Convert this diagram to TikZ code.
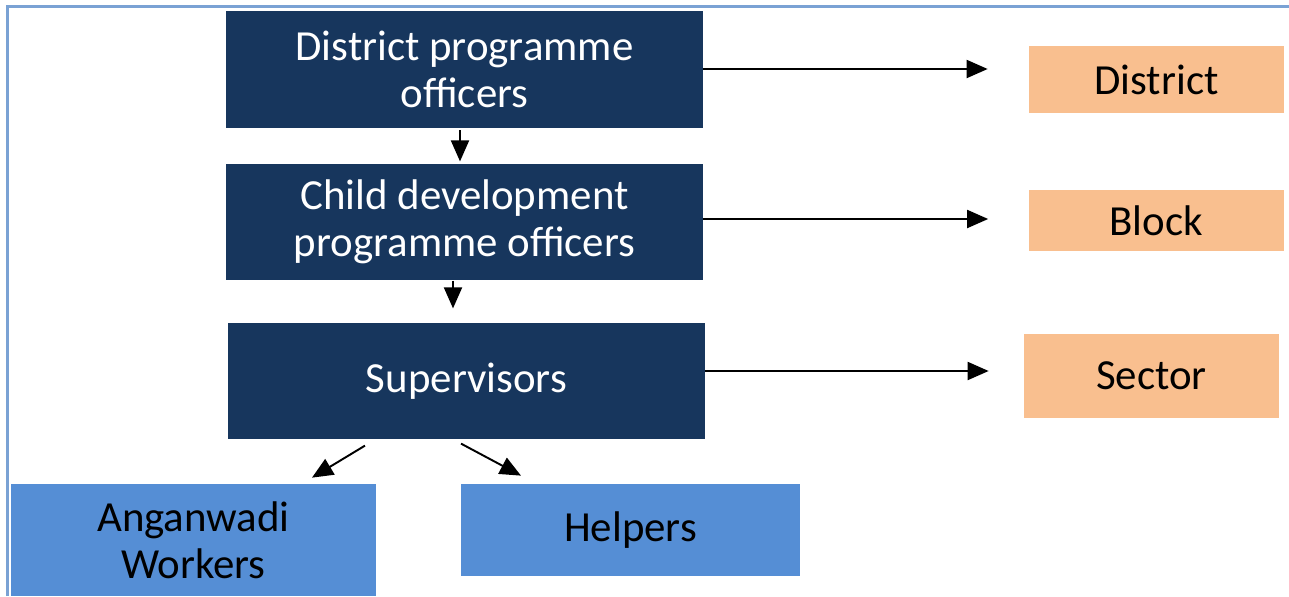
\documentclass[tikz,border=0pt]{standalone}
\usepackage{fontspec}
\setmainfont{Carlito}
\usepackage{tikz}
\usetikzlibrary{arrows.meta,calc}
\usetikzlibrary{positioning}
\definecolor{officer}{RGB}{23,54,93}
\definecolor{level}{RGB}{249,191,143}
\definecolor{worker}{RGB}{85,142,213}
\definecolor{frame}{RGB}{122,162,212}

\begin{document}
\begin{tikzpicture}[
  officer/.style={fill=officer, text=white, minimum width=9.54cm, minimum height=2.33cm, align=center, inner sep=0pt},
  level/.style={fill=level, minimum width=5.1cm, align=center, inner sep=0pt},
  worker/.style={fill=worker, align=center, inner sep=0pt},
  arr/.style={-{Triangle[length=0.42cm, width=0.36cm]}, line width=1.1pt},
  font=\fontsize{24.4}{26.7}\selectfont,
  node distance=1.5cm
  ]
  \useasboundingbox (0,0) rectangle (25.78,-11.92);

  % Frame
  \draw[frame, line width=1.2pt] (0.15,-11.92) -- (0.15,-0.13) -- (25.78,-0.13);

  % Officers
  \node[officer] (dpo) at (9.29,-1.39) {District programme\\officers};
  \node[officer, below of=dpo, node distance=3.05cm] (cdpo) {Child development\\programme officers};
  \node[officer, below of=cdpo, node distance=3.18cm, xshift=0.04cm] (sup) {Supervisors};

  % Levels
  \node[level, minimum height=1.34cm, right of=dpo, node distance=13.84cm, yshift=-0.2cm] (district) {District};
  \node[level, minimum height=1.22cm, right of=cdpo, node distance=13.83cm, yshift=0.03cm] (block) {Block};
  \node[level, minimum height=1.68cm, right of=sup, node distance=13.7cm, yshift=0.1cm] (sector) {Sector};

  % Workers
  \node[worker, minimum width=7.3cm, minimum height=2.24cm] (aww) at (3.87,-10.8) {Anganwadi\\Workers};
  \node[worker, minimum width=6.78cm, minimum height=1.84cm, right of=aww, node distance=8.74cm, yshift=0.2cm] (helpers) {Helpers};

  % Connections
  \draw[arr, shorten >=0.82cm] ([yshift=0.01cm]dpo.east) -- ([yshift=0.01cm]dpo.east -| district.west);
  \draw[arr, shorten >=0.8cm] ([yshift=0.06cm]cdpo.east) -- ([yshift=0.06cm]cdpo.east -| block.west);
  \draw[arr, shorten >=0.7cm] ([yshift=0.2cm]sup.east) -- ([yshift=0.2cm]sup.east -| sector.west);
  \draw[arr, shorten <=0.04cm, shorten >=0.04cm] ([xshift=-0.09cm]dpo.south) -- ([xshift=-0.09cm]dpo.south |- cdpo.north);
  \draw[arr, shorten >=0.28cm] ([xshift=-0.23cm]cdpo.south) -- ([xshift=-0.23cm]cdpo.south |- sup.north);
  \draw[arr] ([shift={(-2.03,-0.12)}]sup.south) -- ([shift={(2.37,0.12)}]aww.north);
  \draw[arr] ([shift={(-0.11,-0.08)}]sup.south) -- ([shift={(-2.19,0.16)}]helpers.north);

\end{tikzpicture}
\end{document}
